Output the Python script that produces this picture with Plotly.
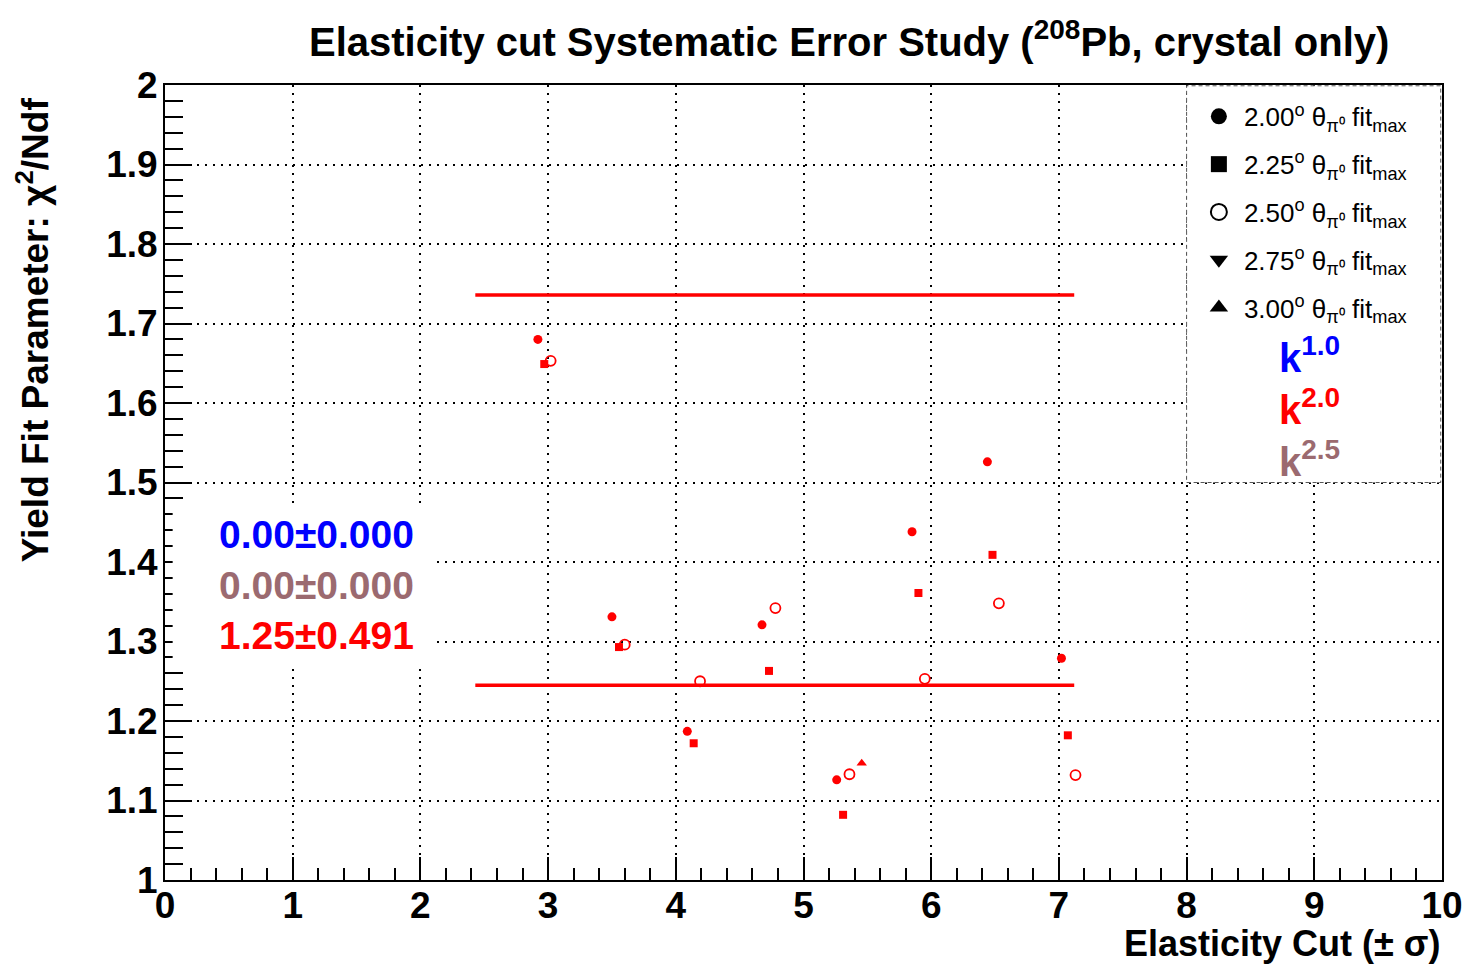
import plotly.graph_objects as go

# ---------------- data ----------------
x_200 = [2.92, 3.50, 4.09, 4.675, 5.26, 5.85, 6.44, 7.02]
y_200 = [1.680, 1.331, 1.187, 1.321, 1.126, 1.438, 1.526, 1.279]

x_225 = [2.97, 3.555, 4.14, 4.73, 5.31, 5.90, 6.48, 7.07]
y_225 = [1.649, 1.293, 1.172, 1.263, 1.082, 1.361, 1.409, 1.182]

x_250 = [3.02, 3.60, 4.19, 4.78, 5.36, 5.95, 6.53, 7.13]
y_250 = [1.653, 1.296, 1.250, 1.342, 1.133, 1.253, 1.348, 1.132]

x_275 = []
y_275 = []

x_300 = [5.456]
y_300 = [1.147]

fit_mean = 1.245
fit_err = 0.491
fit_xrange = [2.43, 7.12]

legend_labels = ["2.00", "2.25", "2.50", "2.75", "3.00"]
legend_symbols = ["circle", "square", "circle-open", "triangle-down", "triangle-up"]

stats_texts = ["0.00±0.000", "0.00±0.000", "1.25±0.491"]
stats_colors = ["#0000ff", "#9b6a70", "#ff0000"]
k_texts = ["1.0", "2.0", "2.5"]
k_colors = ["#0000ff", "#ff0000", "#9b6a70"]

FONT = "Liberation Sans, Arial, Helvetica, sans-serif"
RED = "#ff0000"

fig = go.Figure()

# fit lines (mean and mean + error)
for yv in [fit_mean + fit_err, fit_mean]:
    fig.add_trace(go.Scatter(x=fit_xrange, y=[yv, yv], mode="lines",
                             line=dict(color=RED, width=3.5),
                             showlegend=False, hoverinfo="skip"))

series = [
    (x_200, y_200, "circle", 9, 0),
    (x_225, y_225, "square", 8, 0),
    (x_250, y_250, "circle-open", 10, 1.8),
    (x_275, y_275, "triangle-down", 9, 0),
    (x_300, y_300, "triangle-up", 9, 0),
]
for xs, ys, sym, sz, lw in series:
    fig.add_trace(go.Scatter(x=xs, y=ys, mode="markers",
                             marker=dict(symbol=sym, size=sz, color=RED,
                                         line=dict(width=lw, color=RED)),
                             showlegend=False))

# legend-only entries (black markers)
for i, (lab, sym) in enumerate(zip(legend_labels, legend_symbols)):
    fig.add_trace(go.Scatter(
        x=[None], y=[None], mode="markers", legendgroup=f"g{i}",
        marker=dict(symbol=sym, size=16, color="black",
                    line=dict(width=2 if "open" in sym else 0, color="black")),
        name=f"{lab}<sup>o</sup> θ<sub>π⁰</sub> fit<sub>max</sub>"))

shapes = [
    # legend pave (covers grid)
    dict(type="rect", xref="paper", yref="paper", x0=0.8, x1=0.999, y0=0.5, y1=0.999,
         fillcolor="white", line=dict(color="#555555", width=1, dash="4px,3px"),
         layer="above"),
    # stats pave (covers grid)
    dict(type="rect", xref="paper", yref="paper", x0=0.006, x1=0.213, y0=0.272, y1=0.472,
         fillcolor="white", line=dict(width=0), layer="above"),
]

annotations = []
# title
annotations.append(dict(
    text="Elasticity cut Systematic Error Study (<sup>208</sup>Pb, crystal only)",
    xref="paper", yref="paper", x=0.5356, y=1.0,
    xanchor="center", yanchor="bottom", yshift=19, showarrow=False,
    font=dict(family=FONT, size=40, color="black", weight="bold")))
# y title
annotations.append(dict(
    text="Yield Fit Parameter: χ<sup>2</sup>/Ndf",
    xref="paper", yref="paper", x=-0.103, y=0.987, textangle=-90,
    xanchor="center", yanchor="top", showarrow=False,
    font=dict(family=FONT, size=37, color="black", weight="bold")))
# x title
annotations.append(dict(
    text="Elasticity Cut (± σ)",
    xref="paper", yref="paper", x=1.0, y=-0.0805,
    xanchor="right", yanchor="middle", showarrow=False,
    font=dict(family=FONT, size=36, color="black", weight="bold")))
# stats texts
for i, (t, c) in enumerate(zip(stats_texts, stats_colors)):
    annotations.append(dict(
        text=t, xref="paper", yref="paper", x=0.041, y=0.434 - i * 0.063,
        xanchor="left", yanchor="middle", showarrow=False,
        font=dict(family=FONT, size=39, color=c, weight="bold")))
# k labels
for i, (t, c) in enumerate(zip(k_texts, k_colors)):
    annotations.append(dict(
        text=f"k<sup>{t}</sup>", xref="paper", yref="paper", x=0.8965,
        y=0.661 - i * 0.0655,
        xanchor="center", yanchor="middle", showarrow=False,
        font=dict(family=FONT, size=40, color=c, weight="bold")))

axis_common = dict(
    showline=True, linecolor="black", linewidth=2, mirror=True,
    ticks="inside", tickcolor="black", tickwidth=2,
    showgrid=True, gridcolor="black", gridwidth=1.6, griddash="2px,6px",
    zeroline=False, automargin=False,
    tickfont=dict(family=FONT, size=37, color="black", weight="bold"),
)

fig.update_layout(
    width=1465, height=964,
    margin=dict(l=165, r=23, t=85, b=84, autoexpand=False),
    paper_bgcolor="white", plot_bgcolor="white",
    xaxis=dict(range=[0, 10], dtick=1, tick0=0, ticklen=23,
               minor=dict(dtick=0.2, ticklen=12, ticks="inside", tickwidth=2,
                          tickcolor="black", showgrid=False),
               ticklabelstandoff=-8,
               **axis_common),
    yaxis=dict(range=[1, 2], dtick=0.1, tick0=1, ticklen=27,
               minor=dict(dtick=0.02, ticklen=18, ticks="inside", tickwidth=2,
                          tickcolor="black", showgrid=False),
               ticklabelstandoff=-2,
               **axis_common),
    showlegend=True,
    legend=dict(x=0.8057, y=0.99, xanchor="left", yanchor="top",
                bgcolor="rgba(0,0,0,0)", borderwidth=0,
                font=dict(family=FONT, size=26, color="black"),
                itemsizing="trace", itemwidth=40, tracegroupgap=11),
    shapes=shapes,
    annotations=annotations,
)

fig.write_html("out.html")
